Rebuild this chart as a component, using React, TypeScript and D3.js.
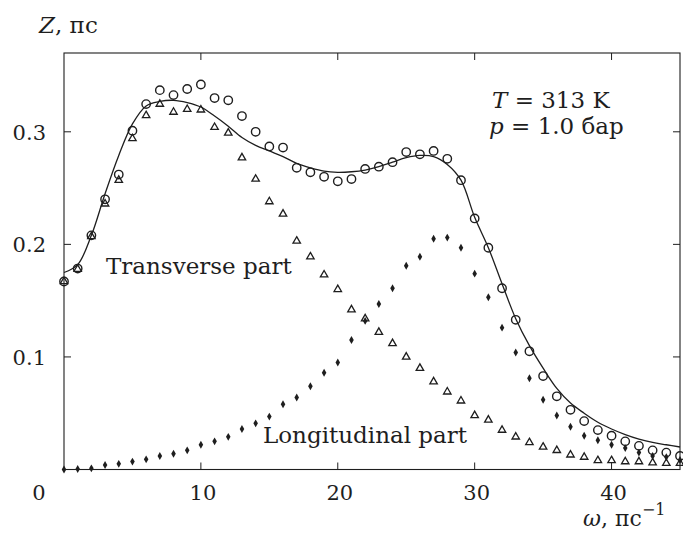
import React from "react";
import * as d3 from "d3";

// frequency grid, ps^-1
const omega = d3.range(0, 46);

// total Z (open circles)
const totalZ = [
  0.167, 0.1785, 0.208, 0.24, 0.262, 0.301, 0.3246, 0.337, 0.3326, 0.338,
  0.342, 0.33, 0.328, 0.314, 0.3, 0.287, 0.286, 0.268, 0.264, 0.26,
  0.256, 0.258, 0.267, 0.269, 0.273, 0.282, 0.28, 0.283, 0.276, 0.257,
  0.223, 0.197, 0.161, 0.133, 0.105, 0.083, 0.065, 0.053, 0.043, 0.035,
  0.03, 0.025, 0.021, 0.017, 0.015, 0.012,
];

// transverse part (open triangles)
const transverseZ = [
  0.167, 0.178, 0.207, 0.236, 0.257, 0.294, 0.3145, 0.3246, 0.3175, 0.32,
  0.3195, 0.304, 0.299, 0.277, 0.258, 0.238, 0.227, 0.203, 0.189, 0.173,
  0.16, 0.142, 0.134, 0.122, 0.112, 0.1, 0.09, 0.078, 0.069, 0.061,
  0.048, 0.044, 0.035, 0.029, 0.024, 0.02, 0.017, 0.013, 0.011, 0.008,
  0.008, 0.007, 0.007, 0.006, 0.0055, 0.0055,
];

// longitudinal part (filled diamonds)
const longitudinalZ = [
  0.0, 0.0005, 0.001, 0.004, 0.005, 0.007, 0.009, 0.012, 0.014, 0.017,
  0.022, 0.025, 0.029, 0.036, 0.041, 0.047, 0.058, 0.064, 0.074, 0.086,
  0.095, 0.115, 0.132, 0.147, 0.161, 0.181, 0.189, 0.205, 0.206, 0.197,
  0.174, 0.153, 0.126, 0.104, 0.081, 0.062, 0.048, 0.038, 0.03, 0.026,
  0.022, 0.019, 0.015, 0.012, 0.011, 0.0085,
];

// theory curve (solid line)
const theoryZ = [
  0.175, 0.182, 0.208, 0.245, 0.279, 0.307, 0.323, 0.327, 0.328, 0.326,
  0.322, 0.314, 0.305, 0.295, 0.288, 0.283, 0.278, 0.272, 0.268, 0.265,
  0.264, 0.2645, 0.266, 0.269, 0.273, 0.277, 0.279, 0.278, 0.271, 0.257,
  0.224, 0.197, 0.165, 0.134, 0.11, 0.09, 0.072, 0.059, 0.05, 0.042,
  0.036, 0.031, 0.027, 0.024, 0.022, 0.02,
];

const xTicks = [0, 10, 20, 30, 40];
const yTicks = [0.1, 0.2, 0.3];
const yTickLabels = ["0.1", "0.2", "0.3"];

const width = 683;
const height = 533;
const margin = { top: 53, right: 3, bottom: 63.5, left: 64 };
const font = "DejaVu Serif";
const ink = "#1e1e1e";

const App = () => {
  const x = d3
    .scaleLinear()
    .domain([0, 45])
    .range([margin.left, width - margin.right]);
  const y = d3
    .scaleLinear()
    .domain([0, 0.37])
    .range([height - margin.bottom, margin.top]);

  const line = d3
    .line<number>()
    .x((_, i) => x(omega[i]))
    .y((d) => y(d))
    .curve(d3.curveCatmullRom);

  const tri = d3.symbol().type(d3.symbolTriangle).size(24)();
  const diamond = d3.symbol().type(d3.symbolDiamond).size(18)();

  const x0 = x.range()[0];
  const x1 = x.range()[1];
  const y0 = y.range()[0];
  const y1 = y.range()[1];
  const tickLen = 7;

  return (
    <div>
      <style>{`body{margin:0;background:#fff} svg text{font-family:"${font}",serif;fill:${ink}}`}</style>
      <svg width={width} height={height} style={{ display: "block" }}>
        <rect width={width} height={height} fill="#fff" />

        {/* frame */}
        <rect
          x={x0}
          y={y1}
          width={x1 - x0}
          height={y0 - y1}
          fill="none"
          stroke={ink}
          strokeWidth={1.1}
        />

        {/* ticks */}
        {xTicks
          .filter((t) => t > 0)
          .map((t) => (
            <g key={"xt" + t} stroke={ink} strokeWidth={1}>
              <line x1={x(t)} x2={x(t)} y1={y0} y2={y0 - tickLen} />
              <line x1={x(t)} x2={x(t)} y1={y1} y2={y1 + tickLen} />
            </g>
          ))}
        {yTicks.map((t) => (
          <g key={"yt" + t} stroke={ink} strokeWidth={1}>
            <line x1={x0} x2={x0 + tickLen} y1={y(t)} y2={y(t)} />
            <line x1={x1} x2={x1 - tickLen} y1={y(t)} y2={y(t)} />
          </g>
        ))}

        {/* tick labels */}
        <g fontSize={21}>
          {xTicks.map((t) => (
            <text
              key={"xl" + t}
              x={t === 0 ? x(t) - 25 : x(t) + 2}
              y={y0 + 30}
              textAnchor="middle"
            >
              {t}
            </text>
          ))}
          {yTicks.map((t, i) => (
            <text key={"yl" + t} x={x0 - 18} y={y(t) + 8} textAnchor="end">
              {yTickLabels[i]}
            </text>
          ))}
        </g>

        {/* theory curve */}
        <path
          d={line(theoryZ) || ""}
          fill="none"
          stroke={ink}
          strokeWidth={1.3}
        />

        {/* longitudinal part */}
        {longitudinalZ.map((v, i) => (
          <path
            key={"d" + i}
            d={diamond || ""}
            transform={`translate(${x(omega[i])},${y(v)})`}
            fill={ink}
          />
        ))}

        {/* transverse part */}
        {transverseZ.map((v, i) => (
          <path
            key={"t" + i}
            d={tri || ""}
            transform={`translate(${x(omega[i])},${y(v)})`}
            fill="none"
            stroke={ink}
            strokeWidth={1.3}
          />
        ))}

        {/* total */}
        {totalZ.map((v, i) => (
          <circle
            key={"c" + i}
            cx={x(omega[i])}
            cy={y(v)}
            r={4.2}
            fill="none"
            stroke={ink}
            strokeWidth={1.4}
          />
        ))}

        {/* annotations */}
        <g fontSize={23}>
          <text x={106} y={274}>Transverse part</text>
          <text x={263} y={443}>Longitudinal part</text>
          <text x={492} y={108}>
            <tspan fontStyle="italic">T</tspan> = 313 K
          </text>
          <text x={489} y={134}>
            <tspan fontStyle="italic">p</tspan> = 1.0 бар
          </text>
          <text x={39} y={33}>
            <tspan fontStyle="italic">Z</tspan>, пс
          </text>
          <text x={583} y={526} fontSize={22}>
            <tspan fontStyle="italic">ω</tspan>, пс
            <tspan fontSize={16} dy={-11}>
              −1
            </tspan>
          </text>
        </g>
      </svg>
    </div>
  );
};

export default App;
